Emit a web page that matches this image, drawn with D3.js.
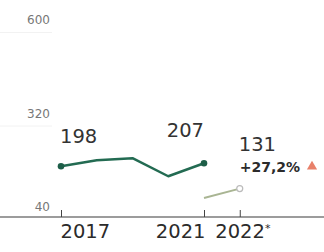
<!DOCTYPE html>
<html>
<head>
<meta charset="utf-8">
<script src="https://cdn.jsdelivr.net/npm/d3@7"></script>
<style>
  body { margin: 0; background: #fff; }
  svg { display: block; font-family: "DejaVu Sans", Verdana, sans-serif; }
</style>
</head>
<body>
<svg id="chart"></svg>
<script>
const years = [2017, 2018, 2019, 2020, 2021];
const mainValues = [198, 216, 222, 168, 207];
const ytdYears = [2021, 2022];
const ytdValues = [103, 131];
const yTicks = [40, 320, 600];
const xTicks = [2017, 2021, 2022];
const xTickLabels = ['2017', '2021', '2022*'];
const changeLabel = '+27,2%';

const w = 324, h = 252;
const axisY = 217;
const font = '"DejaVu Sans", Verdana, sans-serif';

let svg = d3.select('#chart')
    .attr('width', w)
    .attr('height', h);

let xScale = d3.scaleLinear()
    .domain([2017, 2021])
    .range([61, 204]);

let yScale = d3.scaleLinear()
    .domain([40, 600])
    .range([219, 32]);

//y-axis: faint stubs + labels sitting above them
let yAxis = svg.append('g')
    .attr('transform', 'translate(52, 0)')
    .call(d3.axisLeft(yScale).tickValues(yTicks).tickSize(52).tickFormat(d3.format('d')));
yAxis.select('.domain').remove();
yAxis.selectAll('line').attr('stroke', '#f2f2f2');
yAxis.selectAll('text')
    .attr('x', -2)
    .attr('dy', -8.5)
    .attr('fill', '#777')
    .style('font-size', '12px')
    .style('font-family', font);
yAxis.selectAll('.tick').filter(d => d === 40).select('line').remove();

//x-axis
let xAxis = svg.append('g')
    .attr('transform', 'translate(0, ' + axisY + ')')
    .call(d3.axisBottom(xScale).tickValues(xTicks).tickSizeInner(-7).tickSizeOuter(0)
        .tickFormat((d, i) => xTickLabels[i]));
xAxis.select('.domain')
    .attr('d', 'M0,0H' + w)
    .attr('stroke', '#3a3a3a')
    .attr('stroke-width', 1.2);
xAxis.selectAll('line').attr('stroke', '#444');
xAxis.selectAll('text')
    .attr('y', 21)
    .attr('dy', 0)
    .attr('dx', (d, i) => [-1, 1, -25][i])
    .attr('fill', '#2b2b2b')
    .style('font-size', '19.5px')
    .style('font-family', font)
    .attr('text-anchor', (d, i) => ['start', 'end', 'start'][i]);

// smaller raised asterisk on the provisional year
xAxis.selectAll('text')
    .filter(d => d === 2022)
    .text(xTickLabels[2].replace('*', ''))
    .append('tspan')
    .attr('dy', -6)
    .style('font-size', '11px')
    .text('*');

//year-to-date line
let ytd = ytdYears.map((d, i) => ({ year: d, value: ytdValues[i] }));
svg.append('path')
    .datum(ytd)
    .attr('fill', 'none')
    .attr('stroke', '#a9b593')
    .attr('stroke-width', 2)
    .attr('d', d3.line().x(d => xScale(d.year)).y(d => yScale(d.value)));
svg.append('circle')
    .attr('cx', xScale(ytd[1].year))
    .attr('cy', yScale(ytd[1].value))
    .attr('r', 3)
    .attr('fill', '#fff')
    .attr('stroke', '#bbbbbb')
    .attr('stroke-width', 1.2);

//main line
let main = years.map((d, i) => ({ year: d, value: mainValues[i] }));
svg.append('path')
    .datum(main)
    .attr('fill', 'none')
    .attr('stroke', '#236b52')
    .attr('stroke-width', 2.5)
    .attr('stroke-linejoin', 'round')
    .attr('d', d3.line().x(d => xScale(d.year)).y(d => yScale(d.value)));
svg.selectAll('.dot')
    .data([main[0], main[main.length - 1]])
    .enter()
    .append('circle')
    .attr('cx', d => xScale(d.year))
    .attr('cy', d => yScale(d.value))
    .attr('r', 3.3)
    .attr('fill', '#1d5e48');

//value labels
svg.append('text')
    .attr('x', xScale(main[0].year) - 1)
    .attr('y', yScale(main[0].value) - 23)
    .attr('fill', '#333')
    .style('font-size', '19.5px')
    .text(main[0].value);
svg.append('text')
    .attr('x', xScale(main[4].year))
    .attr('y', yScale(main[4].value) - 26)
    .attr('text-anchor', 'end')
    .attr('fill', '#333')
    .style('font-size', '19.5px')
    .text(main[4].value);
svg.append('text')
    .attr('x', xScale(ytd[1].year) - 1)
    .attr('y', yScale(ytd[1].value) - 38)
    .attr('fill', '#333')
    .style('font-size', '19.5px')
    .text(ytd[1].value);
svg.append('text')
    .attr('x', xScale(ytd[1].year))
    .attr('y', yScale(ytd[1].value) - 17)
    .attr('fill', '#2b2b2b')
    .style('font-size', '14px')
    .style('font-weight', 'bold')
    .text(changeLabel);
svg.append('path')
    .attr('d', d3.symbol().type(d3.symbolTriangle).size(45)())
    .attr('transform', 'translate(312, ' + (yScale(ytd[1].value) - 22) + ')')
    .attr('fill', '#e8806a');
</script>
</body>
</html>
